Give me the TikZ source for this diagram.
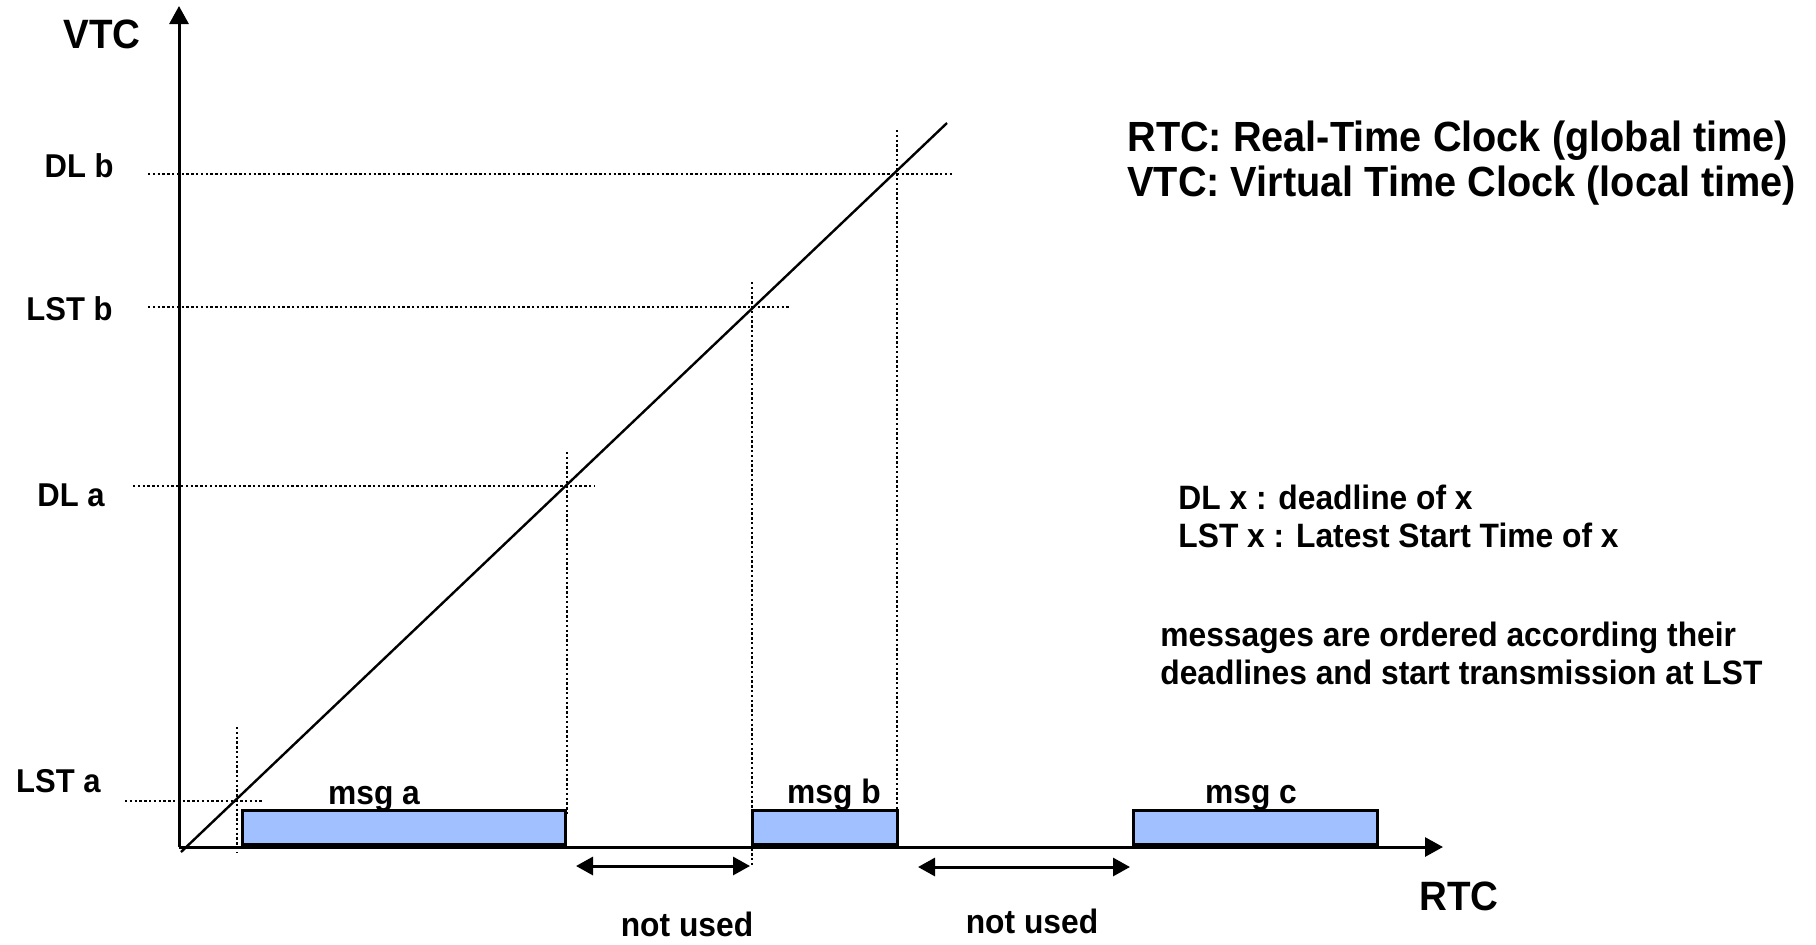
\documentclass[tikz,border=0pt]{standalone}
\usepackage{fontspec}
\setmainfont{Liberation Sans}[FakeStretch=0.94]
\usetikzlibrary{arrows.meta}
\definecolor{msgfill}{RGB}{160,192,255}
\begin{document}
\begin{tikzpicture}[x=0.5pt,y=-0.5pt,
  axisline/.style={line width=1.5pt,-{Triangle[length=9pt,width=9.5pt]}},
  clockline/.style={line width=1.2pt},
  guide/.style={line width=1.2pt,dash pattern=on 1.2pt off 1.2pt},
  gaparrow/.style={line width=1.5pt,{Triangle[length=8.5pt,width=9pt]}-{Triangle[length=8.5pt,width=9pt]}},
  msgbox/.style={draw,line width=1.3pt,fill=msgfill,inner sep=0,minimum height=17pt,anchor=south west},
  big/.style={font=\bfseries\fontsize{20.5}{24}\selectfont,inner sep=0,anchor=base},
  legend/.style={font=\bfseries\fontsize{21.1}{24}\selectfont,inner sep=0,anchor=base west},
  note/.style={font=\bfseries\fontsize{16.9}{19}\selectfont,inner sep=0,anchor=base west},
  lbl/.style={font=\bfseries\fontsize{16.9}{19}\selectfont,inner sep=0,anchor=base},
  tick/.style={font=\bfseries\fontsize{16.5}{19}\selectfont,inner sep=0,anchor=base east}]
\useasboundingbox (0,0) rectangle (1816,944);

% axes
\coordinate (O) at (179,847);
\coordinate (ytip) at (179,6);
\coordinate (xtip) at (1443,847);

% message boxes on the time axis
\node[msgbox,minimum width=161.5pt] (ma) at (241,846) {};
\node[msgbox,minimum width=72.5pt] (mb) at (751,846) {};
\node[msgbox,minimum width=122pt] (mc) at (1132,846) {};

\draw[axisline] (O) -- (ytip);
\draw[axisline] (O) -- (xtip);

% VTC over RTC
\coordinate (c0) at (181,852);
\coordinate (c1) at (947,123);
\draw[clockline] (c0) -- (c1);

% horizontal guides (VTC levels)
\coordinate (hDLb0) at (148,174);  \coordinate (hDLb1) at (954,174);
\coordinate (hLSTb0) at (148,307); \coordinate (hLSTb1) at (789,307);
\coordinate (hDLa0) at (133,486);  \coordinate (hDLa1) at (594,486);
\coordinate (hLSTa0) at (125,801); \coordinate (hLSTa1) at (263,801);
\draw[guide] (hDLb0) -- (hDLb1);
\draw[guide] (hLSTb0) -- (hLSTb1);
\draw[guide] (hDLa0) -- (hDLa1);
\draw[guide] (hLSTa0) -- (hLSTa1);

% vertical guides (RTC instants)
\coordinate (vLSTa0) at (237,727); \coordinate (vLSTa1) at (237,853);
\coordinate (vDLa0) at (567,452);  \coordinate (vDLa1) at (567,814);
\coordinate (vLSTb0) at (752,282); \coordinate (vLSTb1) at (752,867);
\coordinate (vDLb0) at (897,130);  \coordinate (vDLb1) at (897,845);
\draw[guide] (vLSTa0) -- (vLSTa1);
\draw[guide] (vDLa0) -- (vDLa1);
\draw[guide] (vLSTb0) -- (vLSTb1);
\draw[guide] (vDLb0) -- (vDLb1);

% unused gaps
\coordinate (g1a) at (576,866); \coordinate (g1b) at (750,866);
\coordinate (g2a) at (918,867); \coordinate (g2b) at (1130,867);
\draw[gaparrow] (g1a) -- (g1b);
\draw[gaparrow] (g2a) -- (g2b);
\node[lbl] (nu1) at (687,936) {not used};
\node[lbl] (nu2) at (1032,933) {not used};

% message labels
\node[lbl] (la) at (374,804) {msg a};
\node[lbl] (lb) at (834,803) {msg b};
\node[lbl] (lc) at (1251,803) {msg c};

% axis labels
\node[big] (vtc) at (102,48) {VTC};
\node[big] (rtc) at (1459,910) {RTC};

% level labels
\node[tick] (tDLb) at (114,177) {DL b};
\node[tick] (tLSTb) at (113,320) {LST b};
\node[tick] (tDLa) at (105,506) {DL a};
\node[tick] (tLSTa) at (101,792) {LST a};

% legends
\node[legend] (leg1) at (1127,151) {RTC: Real-Time Clock (global time)};
\node[legend] (leg2) at (1127,196) {VTC: Virtual Time Clock (local time)};
\node[note] (def1) at (1178,509) {DL x : deadline of x};
\node[note] (def2) at (1178,547) {LST x : Latest Start Time of x};
\node[note] (rule1) at (1160,646) {messages are ordered according their};
\node[note] (rule2) at (1160,684) {deadlines and start transmission at LST};
\end{tikzpicture}
\end{document}
